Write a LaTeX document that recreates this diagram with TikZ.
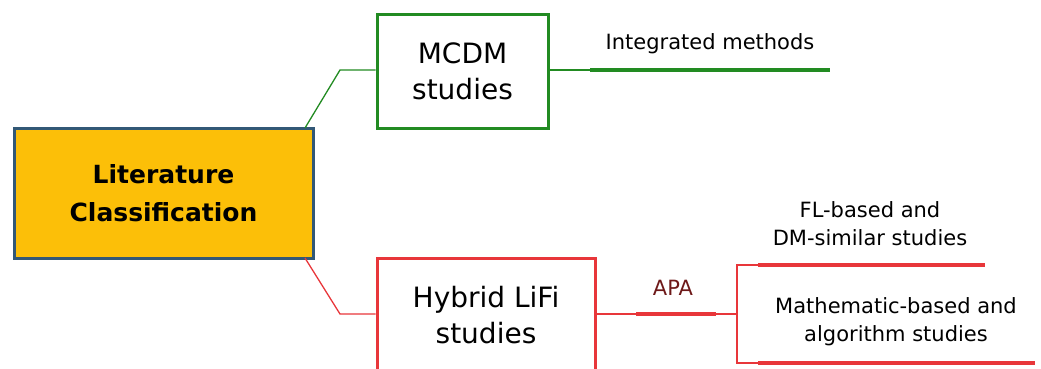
\documentclass[tikz,border=0pt]{standalone}
\usepackage{fontspec}
\setmainfont{DejaVu Sans}
\definecolor{gr}{RGB}{34,139,34}
\definecolor{rd}{RGB}{232,54,58}
\definecolor{gold}{RGB}{252,191,8}
\definecolor{navy}{RGB}{50,88,118}
\definecolor{apa}{RGB}{110,25,25}
\begin{document}
\begin{tikzpicture}[x=1pt,y=-1pt,
  boxstyle/.style={draw,line width=3pt,inner sep=0pt,align=center,fill=white},
  thinline/.style={line width=1.3pt},
  thickline/.style={line width=4pt},
  lbl/.style={align=center,font=\fontsize{21}{28}\selectfont,inner sep=0pt}]
\useasboundingbox (0,0) rectangle (1041,368);
\begin{scope}
\clip (0,0) rectangle (1041,368);
% main
\node[boxstyle,draw=navy,fill=gold,minimum width=299pt,minimum height=130pt,
  font=\fontsize{25}{38}\selectfont\bfseries] (main) at (163.5,193) {Literature\\Classification};
\node[boxstyle,draw=gr,minimum width=171pt,minimum height=114pt,
  font=\fontsize{28}{36}\selectfont] (mcdm) at (462.5,71) {MCDM\\studies};
\node[boxstyle,draw=rd,minimum width=218pt,minimum height=114pt,
  font=\fontsize{28}{36}\selectfont] (hyb) at (486,315) {Hybrid LiFi\\studies};
% green branch
\coordinate (g1) at (305,128);
\coordinate (g2) at (340,70);
\coordinate (g3) at (590,70);
\coordinate (g4) at (830,70);
\draw[gr,thinline] (g1) -- (g2) -- (g2 -| mcdm.west);
\draw[gr,thinline] (g2 -| mcdm.east) -- (g3);
\draw[gr,thickline] (g3) -- (g4);
\node[lbl] (integ) at (710,44) {Integrated methods};
% red branch
\coordinate (r1) at (305,258);
\coordinate (r2) at (340,314);
\coordinate (r3) at (636,314);
\coordinate (r4) at (716,314);
\coordinate (r5) at (737,314);
\coordinate (r6) at (737,265);
\coordinate (r7) at (737,363);
\coordinate (r8) at (758,265);
\coordinate (r9) at (985,265);
\coordinate (r10) at (758,363);
\coordinate (r11) at (1035,363);
\draw[rd,thinline] (r1) -- (r2) -- (r2 -| hyb.west);
\draw[rd,thinline] (r2 -| hyb.east) -- (r3);
\draw[rd,thickline] (r3) -- (r4);
\draw[rd,thinline] (r4) -- (r5);
\draw[rd,thinline] (r8) -- (r6) -- (r7) -- (r10);
\draw[rd,thickline] (r8) -- (r9);
\draw[rd,thickline] (r10) -- (r11);
\node[lbl,text=apa] (apa) at (673,288) {APA};
\node[lbl] (fl) at (870,224) {FL-based and\\DM-similar studies};
\node[lbl] (math) at (896,322) {Mathematic-based and\\algorithm studies};
\end{scope}
\end{tikzpicture}
\end{document}
